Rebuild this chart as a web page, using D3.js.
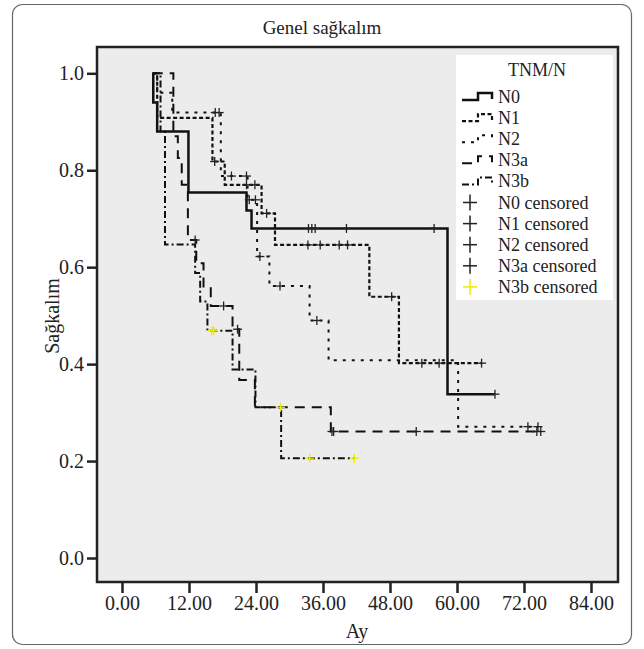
<!DOCTYPE html>
<html>
<head>
<meta charset="utf-8">
<script src="https://cdn.jsdelivr.net/npm/d3@7"></script>
<style>
  body { margin: 0; background: #fff; }
</style>
</head>
<body>
<div class="chart"></div>
<script>
// Kaplan-Meier steps (time in months -> survival after the step)
var groups = ["N0", "N1", "N2", "N3a", "N3b"];

var n0Time = [5.5, 5.6, 6.3, 11.9, 22.3, 23.2, 58.3, 66.8];
var n0Surv = [1.0, 0.94, 0.88, 0.754, 0.717, 0.68, 0.338, 0.338];
var n0Cens = [33.4, 34.0, 34.6, 40.2, 55.9, 66.8];

var n1Time = [5.5, 6.3, 16.2, 18.4, 25.0, 27.4, 44.3, 49.6, 64.4];
var n1Surv = [1.0, 0.908, 0.818, 0.77, 0.711, 0.646, 0.539, 0.402, 0.402];
var n1Cens = [16.6, 22.3, 23.8, 25.9, 33.3, 35.5, 38.9, 40.4, 48.3, 53.7, 56.8, 64.4];

var n2Time = [5.5, 6.3, 9.0, 17.7, 22.5, 24.2, 26.4, 33.6, 37.0, 60.2, 74.5];
var n2Surv = [1.0, 0.96, 0.919, 0.788, 0.739, 0.622, 0.561, 0.49, 0.408, 0.271, 0.271];
var n2Cens = [16.7, 17.4, 19.6, 22.3, 22.8, 23.9, 24.7, 28.3, 34.9, 72.7, 74.5];

var n3aTime = [5.5, 9.2, 10.0, 10.7, 11.8, 13.3, 14.6, 15.9, 19.8, 21.0, 23.8, 37.4, 75.0];
var n3aSurv = [1.0, 0.87, 0.825, 0.77, 0.656, 0.608, 0.56, 0.52, 0.472, 0.367, 0.311, 0.261, 0.261];
var n3aCens = [13.1, 18.2, 20.7, 37.6, 37.9, 52.7, 74.3, 75.0];

var n3bTime = [5.5, 6.9, 7.7, 13.1, 14.0, 15.3, 19.8, 23.9, 28.5, 41.6];
var n3bSurv = [1.0, 0.88, 0.647, 0.588, 0.529, 0.469, 0.389, 0.311, 0.206, 0.206];
var n3bCens = [16.1, 16.4, 28.4, 33.6, 41.6];

var xTicks = [0, 12, 24, 36, 48, 60, 72, 84];
var yTicks = [0, 0.2, 0.4, 0.6, 0.8, 1.0];
var legendLabels = ["N0", "N1", "N2", "N3a", "N3b",
  "N0 censored", "N1 censored", "N2 censored", "N3a censored", "N3b censored"];

var times = [n0Time, n1Time, n2Time, n3aTime, n3bTime];
var survs = [n0Surv, n1Surv, n2Surv, n3aSurv, n3bSurv];
var cens = [n0Cens, n1Cens, n2Cens, n3aCens, n3bCens];

// line look per group
var dashes = [null, "4,2.5", "3,6", "10,7", "7,3,2,3"];
var widths = [2.5, 2.2, 2, 2, 2];
var censColor = ["#222", "#222", "#222", "#222", "#eded00"];

var serif = "'Liberation Serif', 'Times New Roman', 'DejaVu Serif', serif";

var svg = d3.select(".chart").append("svg")
  .attr("width", 644)
  .attr("height", 649);

// outer rounded frame
svg.append("rect")
  .attr("x", 12.5).attr("y", 4.5)
  .attr("width", 619).attr("height", 640)
  .attr("rx", 10)
  .attr("fill", "none")
  .attr("stroke", "#666")
  .attr("stroke-width", 1.2);

var plot = {left: 97, top: 47, right: 618, bottom: 582};

var x = d3.scaleLinear().domain([0, 84]).range([122, 591]);
var y = d3.scaleLinear().domain([0, 1]).range([558, 73.3]);

svg.append("rect")
  .attr("x", plot.left).attr("y", plot.top)
  .attr("width", plot.right - plot.left)
  .attr("height", plot.bottom - plot.top)
  .attr("fill", "#ececec");

// axes
var yAxis = svg.append("g")
  .attr("transform", "translate(" + plot.left + ",0)")
  .call(d3.axisLeft(y).tickValues(yTicks).tickFormat(d3.format(".1f")).tickSize(10).tickPadding(3));

var xAxis = svg.append("g")
  .attr("transform", "translate(0," + plot.bottom + ")")
  .call(d3.axisBottom(x).tickValues(xTicks).tickFormat(d3.format(".2f")).tickSize(11).tickPadding(3));

[xAxis, yAxis].forEach(function(ax) {
  ax.select(".domain").remove();
  ax.selectAll(".tick line").attr("stroke", "#222").attr("stroke-width", 2.5);
  ax.selectAll(".tick text")
    .style("font-family", serif)
    .style("font-size", "20px")
    .attr("fill", "#222");
});

// step lines
var line = d3.line()
  .x(d => x(d[0]))
  .y(d => y(d[1]))
  .curve(d3.curveStepAfter);

function survAt(t, ts, ss) {
  var s = ss[0];
  for (var i = 0; i < ts.length; i++) {
    if (ts[i] <= t) s = ss[i];
  }
  return s;
}

groups.forEach(function(g, i) {
  var pts = times[i].map((t, j) => [t, survs[i][j]]);
  svg.append("path")
    .datum(pts)
    .attr("d", line)
    .attr("fill", "none")
    .attr("stroke", "#111")
    .attr("stroke-width", widths[i])
    .attr("stroke-dasharray", dashes[i]);
});

// censor marks
groups.forEach(function(g, i) {
  var cg = svg.append("g").attr("stroke", censColor[i]).attr("stroke-width", 1.3);
  cens[i].forEach(function(t) {
    var cx = x(t), cy = y(survAt(t, times[i], survs[i]));
    cg.append("line").attr("x1", cx - 4.5).attr("x2", cx + 4.5).attr("y1", cy).attr("y2", cy);
    cg.append("line").attr("x1", cx).attr("x2", cx).attr("y1", cy - 4.5).attr("y2", cy + 4.5);
  });
});

// frame on top
svg.append("rect")
  .attr("x", plot.left).attr("y", plot.top)
  .attr("width", plot.right - plot.left)
  .attr("height", plot.bottom - plot.top)
  .attr("fill", "none")
  .attr("stroke", "#222")
  .attr("stroke-width", 2.5);

// legend
var legend = svg.append("g");
legend.append("rect")
  .attr("x", 456).attr("y", 55)
  .attr("width", 157).attr("height", 245)
  .attr("fill", "#fff");

legend.append("text")
  .attr("x", 537).attr("y", 76)
  .attr("text-anchor", "middle")
  .style("font-family", serif)
  .style("font-size", "18px")
  .attr("fill", "#222")
  .text("TNM/N");

legendLabels.forEach(function(lab, i) {
  var cy = 97 + i * 21.1;
  legend.append("text")
    .attr("x", 498).attr("y", cy + 6)
    .style("font-family", serif)
    .style("font-size", "18px")
    .attr("fill", "#222")
    .text(lab);
  if (i < 5) {
    legend.append("path")
      .attr("d", "M462," + (cy + 3) + "H478V" + (cy - 4) + "H492V" + (cy + 2))
      .attr("fill", "none")
      .attr("stroke", "#111")
      .attr("stroke-width", widths[i])
      .attr("stroke-dasharray", dashes[i]);
  } else {
    var k = i - 5;
    legend.append("line")
      .attr("x1", 463).attr("x2", 477).attr("y1", cy).attr("y2", cy)
      .attr("stroke", censColor[k]).attr("stroke-width", 1.5);
    legend.append("line")
      .attr("x1", 470).attr("x2", 470).attr("y1", cy - 8).attr("y2", cy + 8)
      .attr("stroke", censColor[k]).attr("stroke-width", 1.5);
  }
});

// titles
svg.append("text")
  .attr("x", 322).attr("y", 34)
  .attr("text-anchor", "middle")
  .style("font-family", serif)
  .style("font-size", "19px")
  .attr("fill", "#222")
  .text("Genel sağkalım");

svg.append("text")
  .attr("x", 357).attr("y", 638)
  .attr("text-anchor", "middle")
  .style("font-family", serif)
  .style("font-size", "20px")
  .attr("fill", "#222")
  .text("Ay");

svg.append("text")
  .attr("transform", "translate(59,316) rotate(-90)")
  .attr("text-anchor", "middle")
  .style("font-family", serif)
  .style("font-size", "20px")
  .attr("fill", "#222")
  .text("Sağkalım");
</script>
</body>
</html>
